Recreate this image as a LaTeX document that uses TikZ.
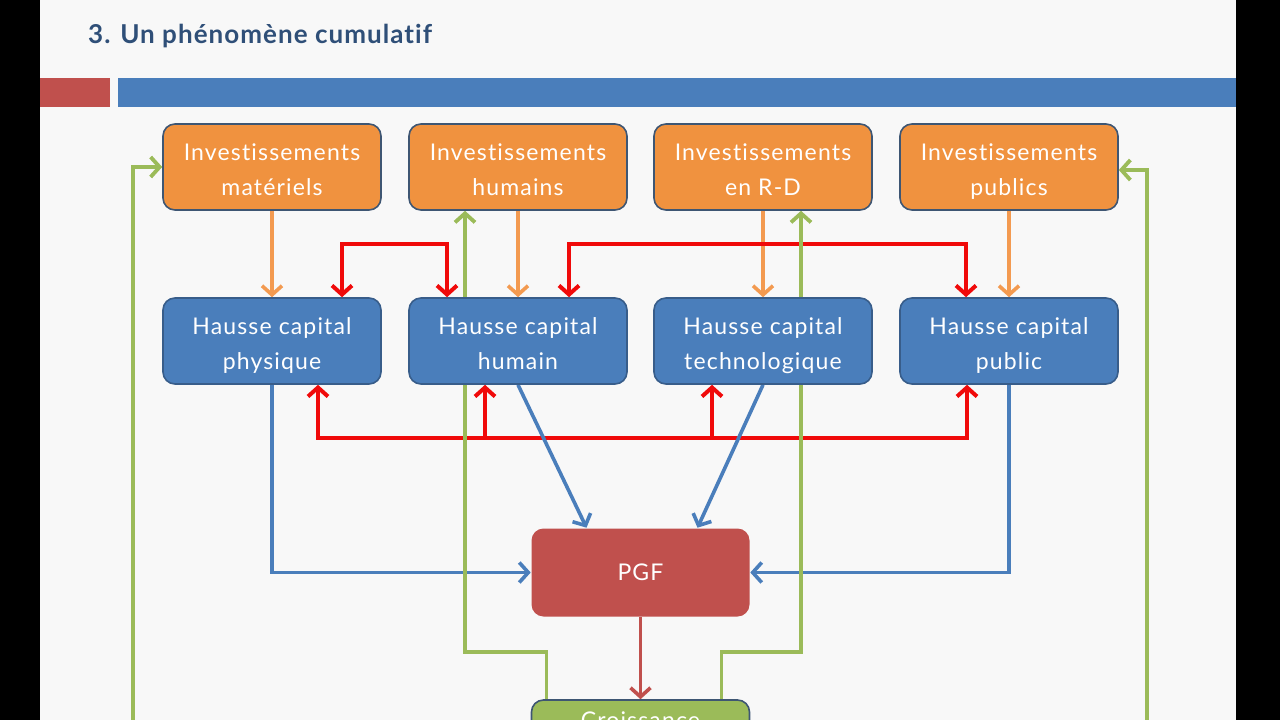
\documentclass[tikz,border=0pt]{standalone}
\usepackage{fontspec}
\setmainfont{Lato}[Ligatures=NoCommon]
\usetikzlibrary{arrows.meta,calc}
\pgfdeclarelayer{bg}
\pgfdeclarelayer{conn}
\pgfsetlayers{bg,conn,main}
\definecolor{pagebg}{HTML}{F8F8F8}
\definecolor{titleblue}{HTML}{2F4F78}
\definecolor{barred}{HTML}{C0504D}
\definecolor{barblue}{HTML}{4A7EBB}
\definecolor{orfill}{HTML}{F0923F}
\definecolor{boxline}{HTML}{3E5673}
\definecolor{blfill}{HTML}{4A7EBB}
\definecolor{blline}{HTML}{385D8A}
\definecolor{pgffill}{HTML}{C0504D}
\definecolor{grfill}{HTML}{9BBB59}
\definecolor{orline}{HTML}{F39A50}
\definecolor{redline}{HTML}{F00A0A}
\definecolor{blueline}{HTML}{4A7EBB}
\definecolor{greenline}{HTML}{9BBB59}
\definecolor{brownline}{HTML}{C0504D}
\newcommand\lnstrut{\rule[-6pt]{0pt}{34pt}}
\begin{document}
\begin{tikzpicture}[x=1pt,y=-1pt,
  box/.style={rounded corners=12pt, minimum width=218pt, minimum height=86pt,
    inner sep=0pt, align=center, text=white,
    font=\fontsize{23}{35}\selectfont\addfontfeature{LetterSpace=5}, line width=1.6pt},
  obox/.style={box, fill=orfill, draw=boxline},
  bbox/.style={box, fill=blfill, draw=blline},
  onetip/.style={-{Straight Barb[length=9pt,width=20pt]}},
  twotips/.style={{Straight Barb[length=9pt,width=20pt]}-{Straight Barb[length=9pt,width=20pt]}},
  oarr/.style={draw=orline, line width=3.6pt, onetip},
  rline/.style={draw=redline, line width=4pt},
  barr/.style={draw=blueline, line width=3.6pt, onetip},
  garr/.style={draw=greenline, line width=3.8pt, onetip},
  parr/.style={draw=brownline, line width=3.6pt, onetip}
]
\useasboundingbox (0,0) rectangle (1280,720);
\begin{pgfonlayer}{bg}
  \fill[black] (0,0) rectangle (1280,720);
  \fill[pagebg] (40,0) rectangle (1236,720);
  \fill[barred] (40,78) rectangle (110,107);
  \fill[barblue] (118,78) rectangle (1236,107);
\end{pgfonlayer}

\node[anchor=base west, inner sep=0pt, font=\bfseries\fontsize{26}{30}\selectfont\addfontfeature{LetterSpace=4}, text=titleblue] (title) at (88,43) {3. Un phénomène cumulatif};

\node[obox] (im) at (272,167) {\lnstrut Investissements\\\lnstrut matériels};
\node[obox] (ih) at (518,167) {\lnstrut Investissements\\\lnstrut humains};
\node[obox] (ir) at (763,167) {\lnstrut Investissements\\\lnstrut en R-D};
\node[obox] (ip) at (1009,167) {\lnstrut Investissements\\\lnstrut publics};

\node[bbox] (hp) at (272,341) {\lnstrut Hausse capital\\\lnstrut physique};
\node[bbox] (hh) at (518,341) {\lnstrut Hausse capital\\\lnstrut humain};
\node[bbox] (ht) at (763,341) {\lnstrut Hausse capital\\\lnstrut technologique};
\node[bbox] (hpub) at (1009,341) {\lnstrut Hausse capital\\\lnstrut public};

\node[box, fill=pgffill, minimum height=88pt] (pgf) at (640.5,572.5) {PGF};
\node[box, fill=grfill, draw=boxline] (cr) at (640.5,743) {};
\node[anchor=north, text=white, font=\fontsize{23}{35}\selectfont\addfontfeature{LetterSpace=5}, inner sep=0pt] (crt) at (640.5,712) {Croissance};

\coordinate (gl) at (133,730);
\coordinate (gr) at (1147,730);

\begin{pgfonlayer}{conn}
  % orange
  \draw[oarr] (im) -- (hp);
  \draw[oarr] (ih) -- (hh);
  \draw[oarr] (ir) -- (ht);
  \draw[oarr] (ip) -- (hpub);
  % red upper
  \draw[rline, twotips] ($(hp.north)+(70,0)$) -- ++(0,-53) -| ($(hh.north)+(-71,0)$);
  \draw[rline, twotips] ($(hh.north)+(51,0)$) -- ++(0,-53) -| ($(hpub.north)+(-43,0)$);
  % red lower
  \draw[rline, twotips] ($(hp.south)+(46,0)$) -- ++(0,53) -| ($(hpub.south)+(-42,0)$);
  \draw[rline, onetip] ($(hh.south)+(-33,53)$) -- ($(hh.south)+(-33,0)$);
  \draw[rline, onetip] ($(ht.south)+(-51,53)$) -- ($(ht.south)+(-51,0)$);
  % blue
  \draw[barr] (hp.south) |- (pgf.west);
  \draw[barr] (hpub.south) |- (pgf.east);
  \draw[barr] (hh.south) -- ($(pgf.north)+(-54,0)$);
  \draw[barr] (ht.south) -- ($(pgf.north)+(57,0)$);
  % pgf to croissance
  \draw[parr] (pgf) -- (cr);
  % green
  \draw[garr] (gl) |- (im.west);
  \draw[garr] (gr) |- ($(ip.east)+(0,3)$);
  \draw[garr] ($(cr.north)+(-94,0)$) -- ++(0,-47) -| ($(ih.south)+(-53,0)$);
  \draw[garr] ($(cr.north)+(81,0)$) -- ++(0,-47) -| ($(ir.south)+(38,0)$);
\end{pgfonlayer}
\end{tikzpicture}
\end{document}
